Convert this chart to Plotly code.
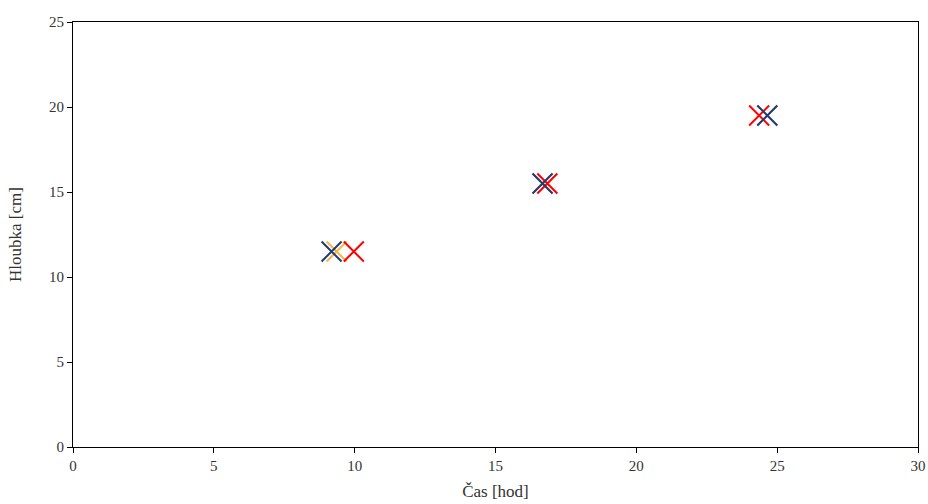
import plotly.graph_objects as go

series_names = ["Série 1", "Série 2", "Série 3"]
x_orange = [9.36, 16.67, 24.65]
y_orange = [11.5, 15.5, 19.5]
x_red = [9.97, 16.84, 24.36]
y_red = [11.5, 15.5, 19.5]
x_blue = [9.18, 16.67, 24.65]
y_blue = [11.5, 15.5, 19.5]
colors = ["#F5B942", "#FF0000", "#1F3A7A"]

fig = go.Figure()
for name, xs, ys, c in zip(series_names, [x_orange, x_red, x_blue], [y_orange, y_red, y_blue], colors):
    fig.add_trace(go.Scatter(x=xs, y=ys, mode="markers", name=name,
                             marker=dict(symbol="x-thin-open", size=20, color=c,
                                         line=dict(width=2, color=c))))

axis_common = dict(showline=True, linecolor="black", linewidth=1.2, mirror=True,
                   showgrid=False, zeroline=False, ticks="outside", ticklen=5,
                   tickcolor="black", automargin=False,
                   tickfont=dict(family="Liberation Serif", size=15, color="#333"))
fig.update_xaxes(range=[0, 30], dtick=5,
                 title=dict(text="Čas [hod]", font=dict(family="Liberation Serif", size=17, color="#333"), standoff=12),
                 **axis_common)
fig.update_yaxes(range=[0, 25], dtick=5,
                 title=dict(text="Hloubka [cm]", font=dict(family="Liberation Serif", size=17, color="#333"), standoff=22),
                 **axis_common)
fig.update_layout(width=928, height=504, margin=dict(l=73, r=10, t=22, b=57),
                  plot_bgcolor="white", paper_bgcolor="white", showlegend=False)
fig.write_html("out.html")
